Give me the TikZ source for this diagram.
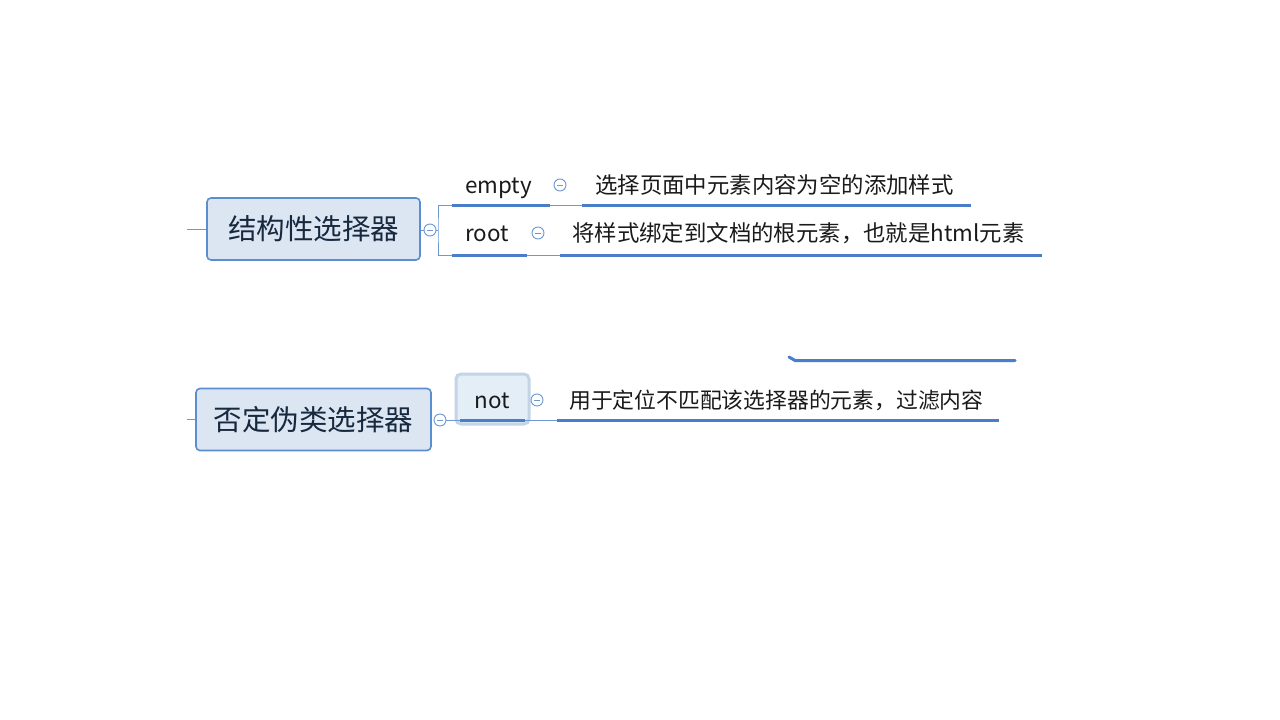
\documentclass[tikz,border=0pt]{standalone}
\usepackage{fontspec}
\setmainfont{Noto Sans CJK SC}
\definecolor{lineblue}{HTML}{4A7EC8}
\definecolor{boxborder}{HTML}{5A8ED0}
\definecolor{boxfill}{HTML}{DCE6F2}
\definecolor{roottext}{HTML}{17293F}
\definecolor{notfill}{HTML}{E4EEF6}
\definecolor{notborder}{HTML}{C3D4E6}
\definecolor{thinline}{HTML}{6E98D0}
\definecolor{labeltext}{HTML}{1A1A1A}
\tikzset{
  rootbox/.style={draw=boxborder, line width=1.6pt, fill=boxfill, rounded corners=4pt,
    minimum height=62pt, text=roottext, font=\fontsize{28.5}{30}\selectfont, inner sep=0,
    text height=24pt, text depth=3pt},
  tog/.style={circle, draw=thinline, line width=0.9pt, minimum size=12pt, inner sep=0, fill=white,
    path picture={\draw[thinline, line width=0.9pt]
      ([xshift=-3pt]path picture bounding box.center) -- ([xshift=3pt]path picture bounding box.center);}},
  lbl/.style={font=\fontsize{22.4}{24}\selectfont, text=labeltext, inner sep=0, anchor=west,
    text height=20pt, text depth=3pt},
  ulthick/.style={draw=lineblue, line width=3pt},
  ulthin/.style={draw=thinline, line width=1pt},
  notbox/.style={draw=notborder, line width=3pt, fill=notfill, rounded corners=5pt,
    minimum width=73pt, minimum height=50pt, inner sep=0}
}
\begin{document}
\begin{tikzpicture}[x=1pt,y=-1pt]
\useasboundingbox (0,0) rectangle (1280,720);
\fill[white] (0,0) rectangle (1280,720);

% ---------- first root ----------
\coordinate (r1in) at (187,229);
\node[rootbox, minimum width=213pt] (r1) at (313.5,229) {结构性选择器};
\draw[ulthin] (r1in) -- (r1.west);
\node[tog] (t1) at (430,230) {};
\draw[ulthin] (r1.east |- t1) -- (t1.west);
\coordinate (br) at (438,230);
\coordinate (e0) at (452,205);
\coordinate (o0) at (452,255);
\draw[ulthin] (t1.east) -- (br);
\draw[ulthin] (e0) -| (br) |- (o0);

% empty branch
\node[lbl] (empty) at (465,185) {empty};
\node[tog] (t2) at (560,185) {};
\node[lbl] (emptyd) at (595,185) {选择页面中元素内容为空的添加样式};
\coordinate (e1) at (550,205);
\coordinate (e2) at (582,205);
\coordinate (e3) at (971,205);
\draw[ulthick] (e0) -- (e1);
\draw[ulthin] (e1) -- (e2);
\draw[ulthick] (e2) -- (e3);

% root branch
\node[lbl] (root) at (465,233) {root};
\node[tog] (t3) at (538,233) {};
\node[lbl] (rootd) at (572,233) {将样式绑定到文档的根元素，也就是html元素};
\coordinate (o1) at (527,255);
\coordinate (o2) at (560,255);
\coordinate (o3) at (1042,255);
\draw[ulthick] (o0) -- (o1);
\draw[ulthin] (o1) -- (o2);
\draw[ulthick] (o2) -- (o3);

% ---------- second root ----------
\coordinate (r2in) at (187,419.5);
\node[rootbox, minimum width=235pt] (r2) at (313.5,419.5) {否定伪类选择器};
\draw[ulthin] (r2in) -- (r2.west);
\node[tog] (t4) at (440,420) {};
\node[notbox] (not) at (492.5,399) {};
\node[lbl, anchor=center] (notl) at (492,400) {not};
\coordinate (n0) at (460,420);
\coordinate (n1) at (525,420);
\coordinate (n2) at (557,420);
\coordinate (n3) at (999,420);
\draw[ulthin] (t4.east) -- (n0);
\draw[ulthick] (n0) -- (n1);
\draw[ulthin] (n1) -- (n2);
\draw[ulthick] (n2) -- (n3);
\node[tog] (t5) at (537,400) {};
\node[lbl, font=\fontsize{21.8}{24}\selectfont] (notd) at (569,400) {用于定位不匹配该选择器的元素，过滤内容};

% stray line
\coordinate (s0) at (789,357);
\coordinate (s1) at (795,360.5);
\coordinate (s2) at (1015,360.5);
\draw[ulthick, line cap=round] (s0) -- (s1) -- (s2);
\end{tikzpicture}
\end{document}
